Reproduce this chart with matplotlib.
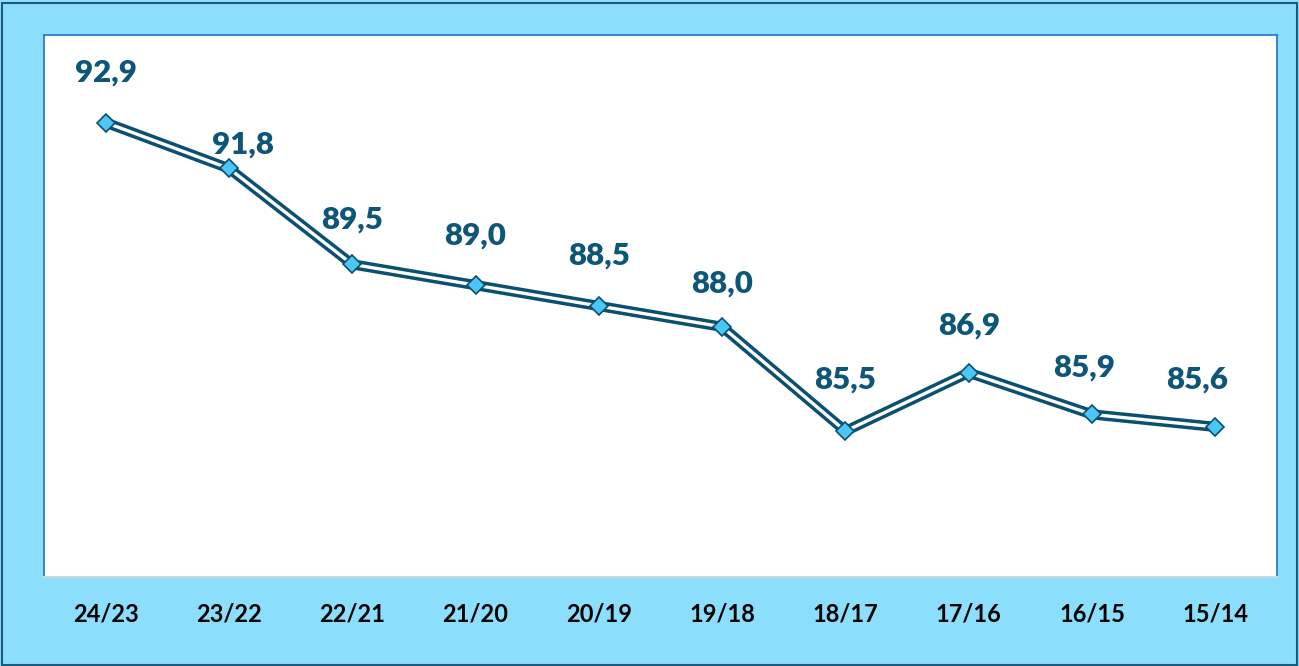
import matplotlib
matplotlib.use("Agg")
import matplotlib.pyplot as plt
from matplotlib.patches import Rectangle

categories = ["24/23", "23/22", "22/21", "21/20", "20/19", "19/18", "18/17", "17/16", "16/15", "15/14"]
values = [92.9, 91.8, 89.5, 89.0, 88.5, 88.0, 85.5, 86.9, 85.9, 85.6]
labels = ["92,9", "91,8", "89,5", "89,0", "88,5", "88,0", "85,5", "86,9", "85,9", "85,6"]
# per-label offsets in points (dx, dy)
label_offsets = [(0, 36), (10, 17), (0, 32), (0, 36), (0, 36), (0, 31), (0, 37), (0, 34), (-6, 34), (-13, 34)]

BG = "#8CDFFC"
DARK = "#0B5070"
LABEL = "#0E5677"

W, H = 1299, 666
fig = plt.figure(figsize=(W / 100, H / 100), dpi=100)
fig.patch.set_facecolor(BG)
fig.patches.append(Rectangle((1.5 / W, 1.5 / H), (W - 4) / W, (H - 4) / H, transform=fig.transFigure,
                             fill=False, edgecolor="#1A5A80", linewidth=1.5))

ax = fig.add_axes([44 / W, (H - 577) / H, 1233 / W, 542 / H])
ax.set_facecolor("white")
x = list(range(len(categories)))
ax.plot(x, values, color=DARK, linewidth=7.4, solid_joinstyle="miter", zorder=2)
ax.plot(x, values, color="white", linewidth=2.4, solid_joinstyle="miter", zorder=3)
ax.plot(x, values, linestyle="none", marker="D", markersize=9, markerfacecolor="#4CC6F4",
        markeredgecolor=DARK, markeredgewidth=1.2, zorder=4)

for xi, v, lab, (dx, dy) in zip(x, values, labels, label_offsets):
    ax.annotate(lab, (xi, v), xytext=(dx, dy), textcoords="offset points", ha="center", va="center",
                fontsize=22.5, fontweight="heavy", color=LABEL, family=["Lato", "DejaVu Sans"])

ax.set_xlim(-0.5, 9.5)
ax.set_ylim(82, 95)
ax.set_yticks([])
ax.set_xticks(x)
ax.set_xticklabels(categories, fontsize=17, fontweight="bold", color="black", family=["Lato", "DejaVu Sans"])
ax.tick_params(axis="x", length=0, pad=18)
for s in ["top", "left", "right"]:
    ax.spines[s].set_color("#2C7BD0")
    ax.spines[s].set_linewidth(1.3)
ax.spines["bottom"].set_color("#C9D9E2")
ax.spines["bottom"].set_linewidth(1.5)

fig.savefig("out.png", dpi=100, facecolor=BG)
